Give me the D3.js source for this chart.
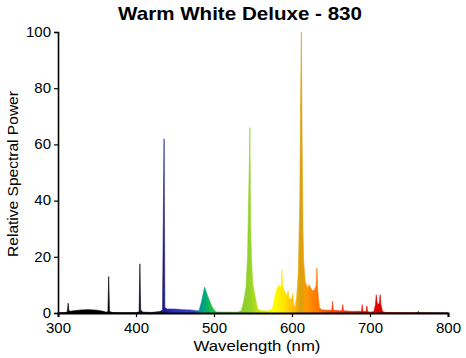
<!DOCTYPE html>
<html><head><meta charset="utf-8">
<script src="https://cdn.jsdelivr.net/npm/d3@7"></script>
<style>body{margin:0;background:#fff;}svg{display:block;font-family:"Liberation Sans",Arial,sans-serif;}</style>
</head><body>
<svg id="c" width="466" height="358"></svg>
<script>
const title = "Warm White Deluxe - 830";
const xLabel = "Wavelength (nm)";
const yLabel = "Relative Spectral Power";
const xTicks = [300, 400, 500, 600, 700, 800];
const yTicks = [0, 20, 40, 60, 80, 100];
const wavelengths = [300,310,312,313,314,316,320,330,340,350,358,362,364,365,366,370,380,400,403,404,405,406,407,408,410,420,430,434,435,436,437,440,450,460,470,478,481,484,487,488,490,492,494,497,500,503,510,530,535,538,541,543,544,545,546,547,548,549,550,552,554,556,560,570,575,578,581,584,586,587,588,590,592,594,595,596,599,600,601,602,604,606,608,610,611,612,613,614,615,617,620,622,624,626,628,630,631,632,633,635,638,645,651,652,653,660,664,665,666,675,688,689,690,691,695,696,697,700,705,707,708,709,710,712,713,714,716,720,755,761,762,763,800];
const power = [0,0.2,0.5,3.5,0.8,0.6,0.8,1.1,1.2,1.0,0.6,0.3,0.5,13,0.5,0.2,0.1,0.1,0.3,0.4,17.5,0.4,0.9,0.4,0.3,0.2,0.5,1.0,33,62,2,1.4,1.4,1.2,1.1,0.8,1.0,4,8,9.2,7.5,6,4.5,2.5,1.2,0.4,0.3,0.3,0.8,4,9,20,35,49,66,30,20,14,10,7,4,1.5,0.8,0.8,1.5,6,9,10,9,15.5,10,8,7,6,8,5,5,5.5,7,3,2,6,14,40,75,100,60,30,18,11,9,10,9,8,8,9,10,16,8,2,1.2,1,1,4.2,1,0.8,0.8,3,0.8,0.6,0.6,0.6,3,0.6,0.5,2.5,0.5,0.3,0.5,3,6.5,4,3,3.5,6.5,3,0.5,0.2,0.1,0.1,0.6,0.1,0];
const data = wavelengths.map((w, i) => ({w, p: power[i]}));

const svg = d3.select("#c");
const x = d3.scaleLinear().domain([300, 800]).range([58, 448]);
const y = d3.scaleLinear().domain([0, 100]).range([313, 32]);

const stops = [[300,"#000000"],[400,"#000000"],[425,"#10104a"],[436,"#1c1c80"],[445,"#2828c0"],[475,"#3048c8"],[481,"#0090a0"],[488,"#00a878"],[497,"#20c040"],[530,"#80cc20"],[546,"#94d22c"],[562,"#d8ec00"],[576,"#ffff00"],[590,"#ffe400"],[604,"#ffb400"],[611,"#d8a010"],[618,"#ff9a00"],[633,"#ff7400"],[650,"#ff4000"],[680,"#ff2000"],[710,"#e00000"],[740,"#a00000"],[780,"#400000"],[800,"#000000"]];
const defs = svg.append("defs");
const grad = defs.append("linearGradient").attr("id","spec").attr("gradientUnits","userSpaceOnUse")
  .attr("x1", x(300)).attr("x2", x(800)).attr("y1",0).attr("y2",0);
grad.selectAll("stop").data(stops).join("stop")
  .attr("offset", d => (d[0]-300)/500).attr("stop-color", d => d[1]);

const area = d3.area().x(d => x(d.w)).y0(y(0)).y1(d => y(d.p));
svg.append("path").datum(data).attr("d", area).attr("fill", "url(#spec)")
  .attr("stroke", "url(#spec)").attr("stroke-width", 0.6);

const xAxis = svg.append("g").attr("transform", `translate(0,${y(0)})`)
  .call(d3.axisBottom(x).tickValues(xTicks).tickSize(4).tickPadding(5).tickFormat(d3.format("d")));
const yAxis = svg.append("g").attr("transform", `translate(${x(300)},0)`)
  .call(d3.axisLeft(y).tickValues(yTicks).tickSize(4).tickPadding(3).tickFormat(d3.format("d")));
[xAxis, yAxis].forEach(g => {
  g.selectAll("text").attr("font-size", 15).attr("fill", "#000").attr("font-family", '"Liberation Sans",Arial,sans-serif');
  g.selectAll("line").attr("stroke", "#000").attr("stroke-width", 1.2);
  g.select(".domain").attr("stroke", "#000");
});
yAxis.selectAll("text").attr("dy", "0.28em");
xAxis.select(".domain").attr("stroke-width", 2);
yAxis.select(".domain").attr("stroke-width", 1.6);

function fitText(sel, target) {
  const w = sel.node().getComputedTextLength();
  return target / w;
}
const t = svg.append("text").attr("text-anchor","middle")
  .attr("font-size", 18).attr("font-weight","bold").text(title);
t.attr("transform", `translate(240,20) scale(${fitText(t, 244)},1)`);
const xl = svg.append("text").attr("text-anchor","middle").attr("font-size", 15).text(xLabel);
xl.attr("transform", `translate(257,351) scale(${fitText(xl, 127)},1)`);
const yl = svg.append("text").attr("text-anchor","middle").attr("font-size", 15).text(yLabel);
yl.attr("transform", `translate(18,174) rotate(-90) scale(${fitText(yl, 166)},1)`);
</script>
</body></html>
